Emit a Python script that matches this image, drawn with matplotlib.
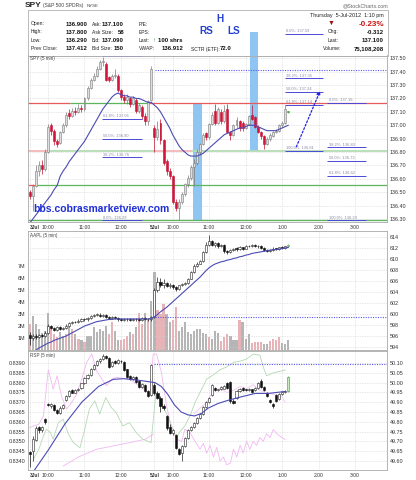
import matplotlib
matplotlib.use('Agg')
import matplotlib.pyplot as plt
import numpy as np
from matplotlib.patches import Rectangle
from matplotlib.ticker import FormatStrFormatter

plt.rcParams['font.family'] = ['Liberation Sans', 'DejaVu Sans']

# ---------------- DATA ----------------
# bar index: 3-Jul = 0..40, 5-Jul = 41..85 (5-minute bars)
spy_open = [136.50,136.47,136.55,136.66,136.70,136.67,136.80,137.00,136.96,136.88,
            136.87,136.95,137.00,137.09,137.07,137.11,137.10,137.13,137.12,137.20,
            137.28,137.34,137.37,137.42,137.47,137.46,137.36,137.34,137.37,137.37,
            137.26,137.21,137.19,137.20,137.16,137.19,137.11,137.14,137.07,137.03,137.19,
            136.98,136.91,137.02,136.89,136.73,136.66,136.62,136.43,136.38,136.43,
            136.49,136.56,136.61,136.69,136.72,136.80,136.86,136.94,136.91,137.01,
            137.11,137.02,137.10,137.03,137.12,136.95,136.93,137.00,137.03,137.02,
            136.98,137.01,137.08,137.06,136.99,136.95,136.92,136.86,136.90,136.92,
            136.95,136.96,137.00,137.02,137.11]
spy_close = [136.47,136.55,136.66,136.70,136.67,136.80,136.99,136.96,136.88,136.86,
             136.95,137.00,137.08,137.07,137.11,137.10,137.13,137.12,137.20,137.28,
             137.34,137.37,137.42,137.47,137.48,137.34,137.34,137.37,137.37,137.26,
             137.21,137.19,137.21,137.16,137.20,137.11,137.15,137.07,137.03,137.18,137.42,
             136.91,136.97,136.89,136.72,136.66,136.62,136.43,136.38,136.43,136.49,
             136.56,136.61,136.69,136.72,136.80,136.86,136.93,136.91,137.01,137.08,
             137.02,137.12,137.03,137.11,136.95,136.93,137.00,137.04,136.98,136.98,
             137.01,137.07,137.05,136.99,136.95,136.92,136.86,136.90,136.93,136.95,
             136.96,137.00,137.02,137.12,137.10]
spy_high = [136.52,136.56,136.70,136.73,136.74,136.82,137.01,137.02,136.97,136.90,
            136.96,137.02,137.10,137.12,137.13,137.14,137.16,137.15,137.21,137.29,
            137.35,137.39,137.44,137.49,137.51,137.47,137.37,137.38,137.42,137.38,
            137.27,137.23,137.23,137.21,137.22,137.20,137.17,137.15,137.09,137.19,137.44,
            137.00,137.03,137.05,136.90,136.75,136.68,136.63,136.45,136.45,136.50,
            136.57,136.63,136.70,136.75,136.82,136.87,136.94,136.95,137.02,137.10,
            137.16,137.14,137.12,137.15,137.16,136.96,137.01,137.06,137.04,137.03,
            137.02,137.08,137.15,137.07,137.00,136.96,136.93,136.91,136.94,136.96,
            136.97,137.01,137.03,137.15,137.11]
spy_low = [136.45,136.36,136.54,136.62,136.64,136.66,136.79,136.93,136.85,136.84,
           136.86,136.94,136.99,137.05,137.06,137.08,137.09,137.10,137.11,137.19,
           137.27,137.33,137.36,137.41,137.44,137.33,137.32,137.33,137.35,137.25,
           137.19,137.17,137.16,137.14,137.15,137.09,137.09,137.05,137.00,137.00,137.18,
           136.80,136.89,136.86,136.70,136.63,136.60,136.41,136.36,136.29,136.41,
           136.47,136.54,136.59,136.55,136.70,136.78,136.85,136.89,136.90,137.00,
           137.00,137.01,137.01,137.02,136.94,136.89,136.92,136.98,136.96,136.96,
           136.97,137.00,137.04,136.98,136.94,136.90,136.82,136.85,136.88,136.91,
           136.94,136.95,136.99,137.01,137.09]
spy_ma = [136.27,136.30,136.33,136.36,136.39,136.42,136.45,136.48,136.52,136.55,
          136.62,136.66,136.69,136.73,136.76,136.79,136.82,136.85,136.88,136.92,
          136.96,137.00,137.04,137.08,137.12,137.15,137.18,137.21,137.23,137.24,
          137.23,137.22,137.22,137.21,137.21,137.20,137.20,137.19,137.18,137.17,137.17,
          137.15,137.13,137.10,137.06,137.02,136.98,136.93,136.89,136.85,136.82,
          136.80,136.78,136.77,136.77,136.77,136.78,136.79,136.81,136.83,136.85,
          136.87,136.89,136.91,136.93,136.94,136.95,136.96,136.97,136.98,136.98,
          136.99,137.00,137.00,137.00,136.99,136.98,136.97,136.96,136.96,136.96,
          136.96,136.97,136.98,136.99,137.00]

aapl_open = [596.2,595.6,596.0,595.8,596.1,596.0,596.6,597.8,597.4,597.1,
             597.6,597.3,597.5,597.9,598.3,598.6,598.5,598.8,599.1,599.0,
             599.3,599.6,599.8,599.9,599.7,599.8,599.5,599.2,599.4,599.3,
             599.0,598.9,599.1,599.0,598.9,599.1,599.0,598.9,599.2,599.1,599.0,
             599.5,604.3,605.9,605.2,605.6,605.1,605.3,604.9,604.5,605.2,
             605.4,605.6,606.4,607.6,608.8,609.1,609.6,611.2,612.6,613.2,
             612.6,612.9,612.4,612.6,611.4,611.2,611.6,611.9,611.8,612.1,
             611.9,612.3,612.4,612.6,612.3,612.4,612.0,611.6,611.4,611.7,
             611.9,611.8,612.1,612.0,612.3]
aapl_close = [595.6,596.0,595.8,596.1,596.0,596.6,597.8,597.4,597.1,597.6,
              597.3,597.5,597.9,598.3,598.6,598.5,598.8,599.1,599.0,599.3,
              599.6,599.8,599.9,599.7,599.8,599.5,599.2,599.4,599.3,599.0,
              598.9,599.1,599.0,598.9,599.1,599.0,598.9,599.2,599.1,599.0,599.4,
              604.3,605.9,605.2,605.6,605.1,605.3,604.9,604.5,605.2,605.4,
              605.6,606.4,607.6,608.8,609.1,609.6,611.2,612.6,613.2,612.6,
              612.9,612.4,612.6,611.4,611.2,611.6,611.9,611.8,612.1,611.9,
              612.3,612.4,612.6,612.3,612.4,612.0,611.6,611.4,611.7,611.9,
              611.8,612.1,612.0,612.3,612.6]
aapl_high = [596.8,596.3,596.3,596.4,596.4,596.9,598.1,598.0,597.7,597.9,
             597.8,597.7,598.1,598.5,598.8,598.8,599.0,599.3,599.3,599.5,
             599.8,600.0,600.1,600.1,600.0,600.0,599.7,599.6,599.6,599.5,
             599.2,599.3,599.3,599.2,599.3,599.3,599.2,599.4,599.4,599.3,599.6,
             604.8,606.8,606.6,606.3,605.8,605.6,605.5,605.0,605.3,605.6,
             605.8,606.5,607.8,609.0,609.4,609.9,611.4,613.0,614.4,613.4,
             613.1,613.0,612.8,612.7,611.6,611.8,612.0,612.1,612.3,612.2,
             612.5,612.6,612.8,612.7,612.6,612.5,612.1,611.8,611.9,612.1,
             612.0,612.2,612.3,612.4,612.8]
aapl_low = [594.4,595.3,595.5,595.6,595.8,595.8,596.4,597.2,596.9,596.9,
            597.1,597.1,597.3,597.7,598.1,598.3,598.3,598.6,598.8,598.8,
            599.1,599.4,599.6,599.5,599.5,599.3,599.0,599.0,599.1,598.8,
            598.7,598.7,598.8,598.7,598.7,598.8,598.7,598.7,598.9,598.8,598.8,
            599.3,604.0,604.9,604.8,604.9,604.8,604.6,604.1,604.3,605.0,
            605.2,605.5,606.3,607.5,608.6,609.0,609.5,611.0,612.4,612.3,
            612.2,612.0,612.1,611.1,610.9,611.0,611.4,611.5,611.6,611.7,
            611.8,612.1,612.2,612.1,612.0,611.8,611.4,611.2,611.2,611.5,
            611.6,611.6,611.8,611.9,612.2]
aapl_ma = [592.5,593.0,593.4,593.8,594.1,594.4,594.7,594.9,595.2,595.4,
           595.6,595.8,596.0,596.3,596.6,596.9,597.2,597.5,597.8,598.0,
           598.2,598.4,598.6,598.7,598.8,598.9,599.0,599.0,599.1,599.1,
           599.1,599.1,599.1,599.1,599.1,599.1,599.1,599.1,599.1,599.1,599.2,
           599.5,599.9,600.4,600.8,601.2,601.7,602.2,602.7,603.2,603.7,
           604.2,604.7,605.2,605.7,606.2,606.7,607.3,607.9,608.4,608.8,
           609.1,609.3,609.5,609.6,609.8,609.9,610.1,610.2,610.4,610.5,
           610.7,610.8,611.0,611.1,611.2,611.3,611.4,611.5,611.6,611.7,
           611.7,611.8,611.9,612.0,612.1]
aapl_vol_m = [2.2,2.85,2.2,1.75,1.45,1.6,3.1,2.0,1.3,1.05,
              1.5,1.2,1.35,1.9,1.75,1.3,0.9,0.8,0.65,1.2,
              1.2,1.9,1.5,1.75,1.6,2.0,1.3,2.3,1.6,0.8,
              0.85,0.9,1.2,1.5,1.3,1.9,3.1,2.15,3.1,2.45,4.1,
              6.45,3.3,3.0,3.8,3.0,2.3,2.45,3.55,1.6,1.9,
              2.3,1.5,1.3,1.6,1.75,1.75,1.45,1.3,1.1,0.9,
              1.6,1.45,0.75,1.1,1.3,1.2,0.8,0.85,2.45,2.3,
              0.9,1.3,0.55,0.65,0.65,0.65,0.5,0.5,0.75,0.9,
              0.85,1.05,0.6,0.5,0.8]
# 'p' = down-volume bar (pink), 'g' = up-volume bar (gray)
aapl_vol_dir = ("pggggggppp" "ggpgpgpgpg" "ggggggppgg" "pppgpgppgpg"
                "gpppggppgg" "ggggggggpg" "ggpppgggpg" "ggppppggpp" "ppggg")

rsp_open = [49.645,49.650,49.705,49.775,49.760,49.815,49.890,49.880,49.885,49.860,
            49.845,49.870,49.910,49.930,49.960,49.948,49.962,49.975,49.998,50.025,
            50.040,50.070,50.090,50.110,50.120,50.138,50.125,50.085,50.110,50.100,
            50.112,50.105,50.068,50.035,50.020,50.030,50.008,49.980,49.990,49.955,49.935,
            49.990,49.945,49.920,49.880,49.830,49.775,49.745,49.735,49.660,49.640,
            49.675,49.715,49.760,49.775,49.795,49.820,49.840,49.875,49.900,49.935,
            49.975,49.960,49.965,49.970,50.000,50.005,49.905,49.920,49.955,49.975,
            49.965,49.960,49.965,49.960,49.975,50.010,49.980,49.945,49.910,49.890,
            49.935,49.915,49.940,49.950,49.955]
rsp_close = [49.638,49.710,49.770,49.760,49.775,49.800,49.885,49.890,49.860,49.845,
             49.870,49.885,49.930,49.955,49.948,49.962,49.970,49.998,50.025,50.040,
             50.070,50.090,50.110,50.120,50.138,50.125,50.082,50.105,50.100,50.115,
             50.108,50.065,50.030,50.020,50.030,50.005,49.980,49.995,49.955,49.930,50.090,
             49.945,49.920,49.880,49.870,49.770,49.745,49.760,49.665,49.635,49.675,
             49.715,49.760,49.775,49.795,49.820,49.840,49.875,49.900,49.920,49.990,
             49.960,49.965,49.980,49.985,49.975,49.905,49.895,49.955,49.970,49.960,
             49.960,49.970,49.950,49.975,50.000,49.980,49.960,49.930,49.900,49.880,
             49.905,49.940,49.950,49.955,50.030]
rsp_high = [49.650,49.730,49.780,49.780,49.780,49.820,49.895,49.895,49.890,49.865,
            49.880,49.890,49.935,49.960,49.965,49.965,49.975,50.000,50.030,50.045,
            50.075,50.095,50.115,50.125,50.145,50.140,50.130,50.110,50.115,50.120,
            50.118,50.110,50.072,50.040,50.035,50.032,50.012,49.998,49.995,49.960,50.095,
            50.000,49.955,49.930,49.890,49.835,49.790,49.765,49.740,49.665,49.680,
            49.720,49.765,49.780,49.800,49.825,49.845,49.880,49.905,49.925,49.995,
            49.980,49.970,49.985,49.990,50.005,50.010,49.915,49.960,49.975,49.980,
            49.970,49.975,49.970,49.980,50.005,50.020,49.985,49.950,49.915,49.895,
            49.940,49.945,49.955,49.960,50.035]
rsp_low = [49.570,49.600,49.700,49.745,49.750,49.790,49.880,49.870,49.855,49.840,
           49.840,49.865,49.905,49.925,49.945,49.945,49.955,49.970,49.995,50.020,
           50.035,50.065,50.085,50.100,50.115,50.120,50.075,50.080,50.095,50.095,
           50.100,50.060,50.025,50.015,50.015,50.000,49.975,49.975,49.950,49.925,49.930,
           49.935,49.915,49.850,49.860,49.760,49.740,49.735,49.660,49.630,49.600,
           49.670,49.710,49.755,49.770,49.790,49.815,49.835,49.870,49.895,49.930,
           49.955,49.955,49.960,49.965,49.970,49.895,49.890,49.915,49.950,49.955,
           49.955,49.955,49.945,49.955,49.970,49.975,49.955,49.925,49.895,49.870,
           49.900,49.910,49.935,49.945,49.950]
rsp_ma_x = [0.5,6.1,11.6,17.1,22.6,27.5,31.0,35.4,39.0,41.2,43.3,45.4,47.6,49.8,
            52.1,54.2,56.5,58.7,62.0,65.3,69.7,74.2,78.6,84.0]
rsp_ma_y = [49.53,49.656,49.79,49.90,49.98,50.017,50.02,50.013,50.005,50.0,49.98,49.94,
            49.886,49.85,49.835,49.83,49.843,49.87,49.894,49.91,49.928,49.945,49.945,49.955]
pink_up_x = [0.0,3.0,4.5,6.1,7.7,9.0,10.4,12.1,13.8,15.4,17.1,18.7,20.4,22.0,23.7,25.3,
             26.9,28.6,30.8,33.0,35.2,37.4,39.5,40.6,41.7,43.3,45.0,46.6,48.3,50.0]
pink_up_y = [49.771,49.788,49.830,50.066,49.967,50.035,49.933,49.865,49.899,49.941,50.018,
             50.103,50.146,50.061,50.018,49.984,50.018,50.027,50.022,50.015,49.992,49.967,
             49.941,50.146,50.146,50.052,49.882,49.771,49.711,49.70]
pink_lo_x = [11.0,16.0,22.0,27.5,33.0,38.0,40.6]
pink_lo_y = [49.574,49.62,49.66,49.677,49.694,49.711,49.737]
pink_lo2_x = [50.0,51.0,52.7,54.4,56.0,57.1,58.2,59.3,60.4,61.5,62.6,63.7,64.8,66.0,67.0,
              68.1,69.2,70.2,71.3,72.4,73.5,74.6,75.7,76.8,77.9,79.0,80.1,81.2,82.9,84.0]
pink_lo2_y = [49.70,49.762,49.745,49.70,49.66,49.69,49.64,49.68,49.62,49.67,49.60,49.62,
              49.58,49.59,49.66,49.62,49.68,49.64,49.70,49.66,49.70,49.68,49.72,49.70,
              49.74,49.72,49.76,49.74,49.72,49.71]
pink_up2_x = [54.0,56.0,58.2,60.4,62.6,64.8,67.0,69.2,71.3,73.5,75.7,77.9,80.1,82.9,84.0]
pink_up2_y = [49.84,49.87,49.90,49.96,49.97,49.95,49.96,49.98,49.97,49.99,49.96,49.95,
              49.94,49.93,49.90]
green_x = [1.2,3.0,4.5,5.5,6.8,7.7,9.4,11.0,12.7,14.3,16.5,18.1,19.6,21.4,23.0,25.0,26.8,
           28.4,30.6,32.8,35.0,37.2,39.9,41.5,43.3,45.0,46.6,48.3,49.4,51.0,52.7,54.4,
           56.0,58.2,60.4,62.6,64.8,67.0,69.2,71.3,73.5,75.7,76.8,77.9,80.1,82.9,84.0]
green_y = [49.609,49.66,49.728,49.762,49.745,49.711,49.796,49.813,49.737,49.694,49.668,
           49.762,49.865,49.907,49.84,49.924,49.873,49.847,49.779,49.796,49.745,49.711,
           49.694,49.95,49.90,49.84,49.78,49.72,49.75,49.779,49.83,49.90,49.95,50.018,
           50.04,50.066,50.08,50.103,50.11,50.12,50.146,50.14,50.08,50.035,50.05,50.06,50.065]

# annotation levels (SPY)
sr_levels = [137.165, 136.81, 136.553, 136.29]
sr_breaks = [[-0.6, 13.2, 39.0, 117.5], [-0.6, 5.6, 40.6, 53.4, 117.5], [-0.6, 1.7, 117.5], [-0.6, 117.5]]
sr_colors = [['#e65b5b', '#5db55d', '#e65b5b'], ['#f3b5b5', '#b3dcb3', '#f3b5b5', '#b3dcb3'],
             ['#e65b5b', '#5db55d'], ['#5db55d']]
fib_left = [(137.52, '100.0%: 137.52'), (137.05, '61.8%: 137.05'), (136.90, '50.0%: 136.90'),
            (136.76, '38.2%: 136.76'), (136.29, '0.0%: 136.29')]
fib_mid = [(137.68, '0.0%: 137.59'), (137.35, '38.2%: 137.35'), (137.25, '50.0%: 137.24'),
           (137.15, '61.8%: 137.14'), (136.81, '100.0%: 136.81')]
fib_right = [(137.165, '0.0%: 137.16'), (136.835, '38.2%: 136.83'), (136.735, '50.0%: 136.73'),
             (136.625, '61.8%: 136.62'), (136.29, '100.0%: 136.29')]
prev_close_spy, prev_close_aapl, prev_close_rsp = 137.416, 599.45, 50.095

hour_ticks = [0, 6, 18, 30, 41, 47, 59, 71, 83, 95, 107]
hour_labels = ['3Jul', '10:00', '11:00', '12:00', '5Jul', '10:00', '11:00', '12:00', '1:00', '2:00', '3:00']

# ---------------- FIGURE ----------------
W, H = 416, 480
fig = plt.figure(figsize=(W / 100, H / 100), dpi=100)


def rect(x0, y0, x1, y1):
    return [x0 / W, 1 - y1 / H, (x1 - x0) / W, (y1 - y0) / H]


def ftext(x, y, s, **kw):
    kw.setdefault('va', 'center')
    fig.text(x / W, 1 - y / H, s, **kw)


XL = (-0.58, 117.5)
GRID = dict(color='#cfcfcf', lw=0.5, ls=(0, (1, 1.5)))
TICKFS = 3.9


def base_axes(r):
    ax = fig.add_axes(r)
    ax.set_xlim(*XL)
    for s in ax.spines.values():
        s.set_color('#a8a8a8')
        s.set_linewidth(0.6)
    ax.set_xticks(hour_ticks)
    ax.tick_params(length=0, labelsize=TICKFS, colors='#333333', pad=1.5)
    ax.grid(True, axis='x', **GRID)
    ax.set_axisbelow(True)
    return ax


def candles(ax, o, h, l, c, up_fc, up_ec, dn_fc, dn_ec, wick, minh, last=None, w=0.64):
    o, h, l, c = map(np.asarray, (o, h, l, c))
    x = np.arange(len(o))
    up = c >= o
    fc = [up_fc if u else dn_fc for u in up]
    ec = [up_ec if u else dn_ec for u in up]
    wc = [wick if u else dn_ec for u in up]
    if last:
        fc[-1] = last[0]
        ec[-1] = last[1]
        wc[-1] = last[1]
    ax.vlines(x, l, h, colors=wc, lw=0.5, zorder=3)
    ax.bar(x, np.maximum(np.abs(c - o), minh), bottom=np.minimum(o, c), width=w,
           color=fc, edgecolor=ec, linewidth=0.4, zorder=4)


# ---- main SPY panel ----
ax1 = base_axes(rect(28, 55.5, 387, 222))
ax1.set_ylim(136.278, 137.521)
ax1.yaxis.tick_right()
ax1.set_yticks(np.round(np.arange(136.30, 137.51, 0.10), 2))
ax1.yaxis.set_major_formatter(FormatStrFormatter('%.2f'))
ax1.grid(True, axis='y', **GRID)
ax1.set_xticklabels(hour_labels)
ax1.tick_params(axis='x', labelsize=3.6, pad=2.5)
ax1.tick_params(axis='y', pad=2)

for lev, br, cols in zip(sr_levels, sr_breaks, sr_colors):
    lw = 1.3 if lev == 136.81 else 0.9
    for i, col in enumerate(cols):
        ax1.hlines(lev, br[i], br[i + 1], colors=col, lw=lw, zorder=2)

ax1.add_patch(Rectangle((53.7, 136.29), 3.0, 137.165 - 136.29, color='#8ec5f2', zorder=1.5, lw=0))
ax1.add_patch(Rectangle((72.4, 136.81), 2.7, 137.70 - 136.81, color='#8ec5f2', zorder=1.5, lw=0,
                        clip_on=False))

ax1.hlines(prev_close_spy, 41.2, XL[1], colors='#5a5af0', lw=0.8, ls=(0, (1, 1.2)), zorder=2)

for (x0, x1), fib in [((23.7, 36.8), fib_left), ((83.9, 96.5), fib_mid), ((97.8, 110.6), fib_right)]:
    for lev, lab in fib:
        clip = lev <= 137.52
        ax1.hlines(lev, x0, x1, colors='#4a4ad8', lw=0.7, zorder=5, clip_on=clip)
        ax1.annotate(lab, xy=(x0 + 0.5, lev), xytext=(0, 0.6), textcoords='offset points',
                     fontsize=2.9, color='#8a8aa6', va='bottom', ha='left', zorder=5,
                     annotation_clip=False, clip_on=clip)

candles(ax1, spy_open, spy_high, spy_low, spy_close, '#dedede', '#7a7a7a', '#d5143c', '#c01030',
        '#7a7a7a', 0.006, last=('#5cb85c', '#3a9a3a'))
ax1.plot(np.arange(len(spy_ma)), spy_ma, color='#4b4bb4', lw=0.8, zorder=5)

ax1.annotate('', xy=(95.5, 137.256), xytext=(87.7, 136.84),
             arrowprops=dict(arrowstyle='-|>', color='#2222e0', lw=0.9, ls=(0, (1.5, 1.5)),
                             mutation_scale=5, shrinkA=0, shrinkB=0), zorder=6)

for lab in ax1.get_xticklabels():
    if 'Jul' in lab.get_text():
        lab.set_fontweight('bold')
ax1.get_xticklabels()[0].set_ha('left')

# ---- AAPL panel ----
ax2 = base_axes(rect(28, 231, 387, 350))
ax2.set_ylim(0, 9.88)
ax2.set_yticks([1, 2, 3, 4, 5, 6, 7])
ax2.set_yticklabels(['%dM' % v for v in [1, 2, 3, 4, 5, 6, 7]])
ax2.tick_params(axis='y', pad=2)
ax2.set_xticklabels([])
vcol = ['#e8b3b7' if ch == 'p' else '#b5b5b5' for ch in aapl_vol_dir]
ax2.bar(np.arange(len(aapl_vol_m)), aapl_vol_m, width=0.72, color=vcol[:len(aapl_vol_m)], lw=0, zorder=2)
ax2p = ax2.twinx()
ax2p.set_xlim(*XL)
ax2p.set_ylim(593.45, 615.09)
ax2p.set_yticks(list(range(594, 615, 2)))
ax2p.tick_params(length=0, labelsize=TICKFS, colors='#333333', pad=2)
ax2p.grid(True, axis='y', **GRID)
for s in ax2p.spines.values():
    s.set_visible(False)
ax2p.hlines(prev_close_aapl, 41.2, XL[1], colors='#5a5af0', lw=0.8, ls=(0, (1, 1.2)), zorder=2)
candles(ax2p, aapl_open, aapl_high, aapl_low, aapl_close, 'white', '#222222', '#111111', '#111111',
        '#222222', 0.12, last=('white', '#3a9a3a'), w=0.7)
ax2p.plot(np.arange(len(aapl_ma)), aapl_ma, color='#4b4bb4', lw=0.8, zorder=5)

# ---- RSP panel ----
ax3 = base_axes(rect(28, 350.5, 387, 470))
ax3.set_ylim(49.554, 50.164)
ax3.yaxis.tick_right()
ax3.set_yticks(np.round(np.arange(49.60, 50.101, 0.05), 2))
ax3.yaxis.set_major_formatter(FormatStrFormatter('%.2f'))
ax3.grid(True, axis='y', **GRID)
ax3.set_xticklabels(hour_labels)
ax3.tick_params(axis='x', labelsize=3.6, pad=2.5)
ax3.tick_params(axis='y', pad=2)
for lab in ax3.get_xticklabels():
    if 'Jul' in lab.get_text():
        lab.set_fontweight('bold')
ax3.get_xticklabels()[0].set_ha('left')
sec = ax3.secondary_yaxis('left', functions=(lambda p: p * 0.01 + 0.338, lambda r: (r - 0.338) * 100))
sec.set_yticks(np.round(np.arange(0.8340, 0.83901, 0.0005), 4))
sec.yaxis.set_major_formatter(FormatStrFormatter('%.4f'))
sec.tick_params(length=0, labelsize=TICKFS, colors='#333333', pad=2)
sec.spines['left'].set_visible(False)

ax3.plot(pink_up_x, pink_up_y, color='#f2b8f2', lw=0.6, zorder=2)
ax3.plot(pink_lo_x, pink_lo_y, color='#f2b8f2', lw=0.6, zorder=2)
ax3.plot(pink_lo2_x, pink_lo2_y, color='#f2b8f2', lw=0.6, zorder=2)
ax3.plot(pink_up2_x, pink_up2_y, color='#f2c8f2', lw=0.6, zorder=2)
ax3.plot(green_x, green_y, color='#b5d9b5', lw=0.6, zorder=2)
ax3.hlines(prev_close_rsp, 41.0, XL[1], colors='#5a5af0', lw=0.8, ls=(0, (1, 1.2)), zorder=2)
candles(ax3, rsp_open, rsp_high, rsp_low, rsp_close, 'white', '#222222', '#111111', '#111111',
        '#222222', 0.004, last=('#c8e8c0', '#3a9a3a'), w=0.7)
ax3.plot(rsp_ma_x, rsp_ma_y, color='#4b4bb4', lw=0.8, zorder=5)

# panel titles
ftext(30, 58.8, 'SPY (5 min)', fontsize=3.3, color='#444444')
ftext(30, 236, 'AAPL (5 min)', fontsize=3.3, color='#444444')
ftext(30, 355.5, 'RSP (5 min)', fontsize=3.3, color='#444444')

# watermark / annotations
ftext(33, 209, 'bbs.cobrasmarketview.com', fontsize=7.5, fontweight='bold', color='#1f2fd6')
ftext(206, 30.5, 'RS', fontsize=7.2, fontweight='bold', color='#2440d0', ha='center')
ftext(220, 19.5, 'H', fontsize=7.2, fontweight='bold', color='#2440d0', ha='center')
ftext(234, 30.5, 'LS', fontsize=7.2, fontweight='bold', color='#2440d0', ha='center')

# ---- header ----
LFS, VFS = 3.6, 4.3
fig.add_artist(Rectangle((28 / W, 1 - 55.5 / H), 359.5 / W, 45.5 / H, transform=fig.transFigure,
                         fill=False, edgecolor='#b0b0b0', lw=0.6))
ftext(25, 5.5, 'SPY', fontsize=6, fontweight='bold', color='#222222')
ftext(43, 5.8, '(S&P 500 SPDRs)', fontsize=3.6, color='#444444')
ftext(87, 5.8, 'NYSE', fontsize=3.2, color='#444444')
ftext(388, 5.8, '@StockCharts.com', fontsize=3.8, color='#666666', ha='right')
ftext(384, 15, 'Thursday  5-Jul-2012  1:10 pm', fontsize=3.9, color='#222222', ha='right')

rows_y = [24, 32, 40.7, 49]
col1 = [('Open:', '136.900'), ('High:', '137.800'), ('Low:', '136.290'), ('Prev Close:', '137.412')]
col2 = [('Ask:', '137.100'), ('Ask Size:', '58'), ('Bid:', '137.090'), ('Bid Size:', '150')]
for y, (a, b), (c, d) in zip(rows_y, col1, col2):
    ftext(31, y, a, fontsize=LFS, color='#222222')
    ftext(87.3, y, b, fontsize=VFS, fontweight='bold', color='#111111', ha='right')
    ftext(92, y, c, fontsize=LFS, color='#222222')
    ftext(124, y, d, fontsize=VFS, fontweight='bold', color='#111111', ha='right')
ftext(139, 24, 'P/E:', fontsize=LFS, color='#222222')
ftext(139, 32, 'EPS:', fontsize=LFS, color='#222222')
ftext(139, 40.7, 'Last:', fontsize=LFS, color='#222222')
ftext(154, 40.7, '\u2191', fontsize=VFS, fontweight='bold', color='#2a8a2a', ha='center')
ftext(158, 40.7, '100 shrs', fontsize=VFS, fontweight='bold', color='#111111')
ftext(139, 49, 'VWAP:', fontsize=LFS, color='#222222')
ftext(184, 49, '136.912', fontsize=VFS, fontweight='bold', color='#111111', ha='right')
ftext(191, 49, 'SCTR (ETF):', fontsize=LFS, color='#222222')
ftext(220, 49, '72.0', fontsize=VFS, fontweight='bold', color='#111111')

ftext(331, 23, '\u25bc', fontsize=5, color='#a01010', ha='center')
ftext(384, 24, '-0.23%', fontsize=5.8, fontweight='bold', color='#cc1111', ha='right')
ftext(328, 32, 'Chg:', fontsize=LFS, color='#222222')
ftext(384, 32, '-0.312', fontsize=VFS, fontweight='bold', color='#111111', ha='right')
ftext(328, 40.7, 'Last:', fontsize=LFS, color='#222222')
ftext(384, 40.7, '137.100', fontsize=VFS, fontweight='bold', color='#111111', ha='right')
ftext(322.7, 49, 'Volume:', fontsize=LFS, color='#222222')
ftext(384, 49, '75,108,208', fontsize=VFS, fontweight='bold', color='#111111', ha='right')

fig.savefig('out.png', dpi=100)
